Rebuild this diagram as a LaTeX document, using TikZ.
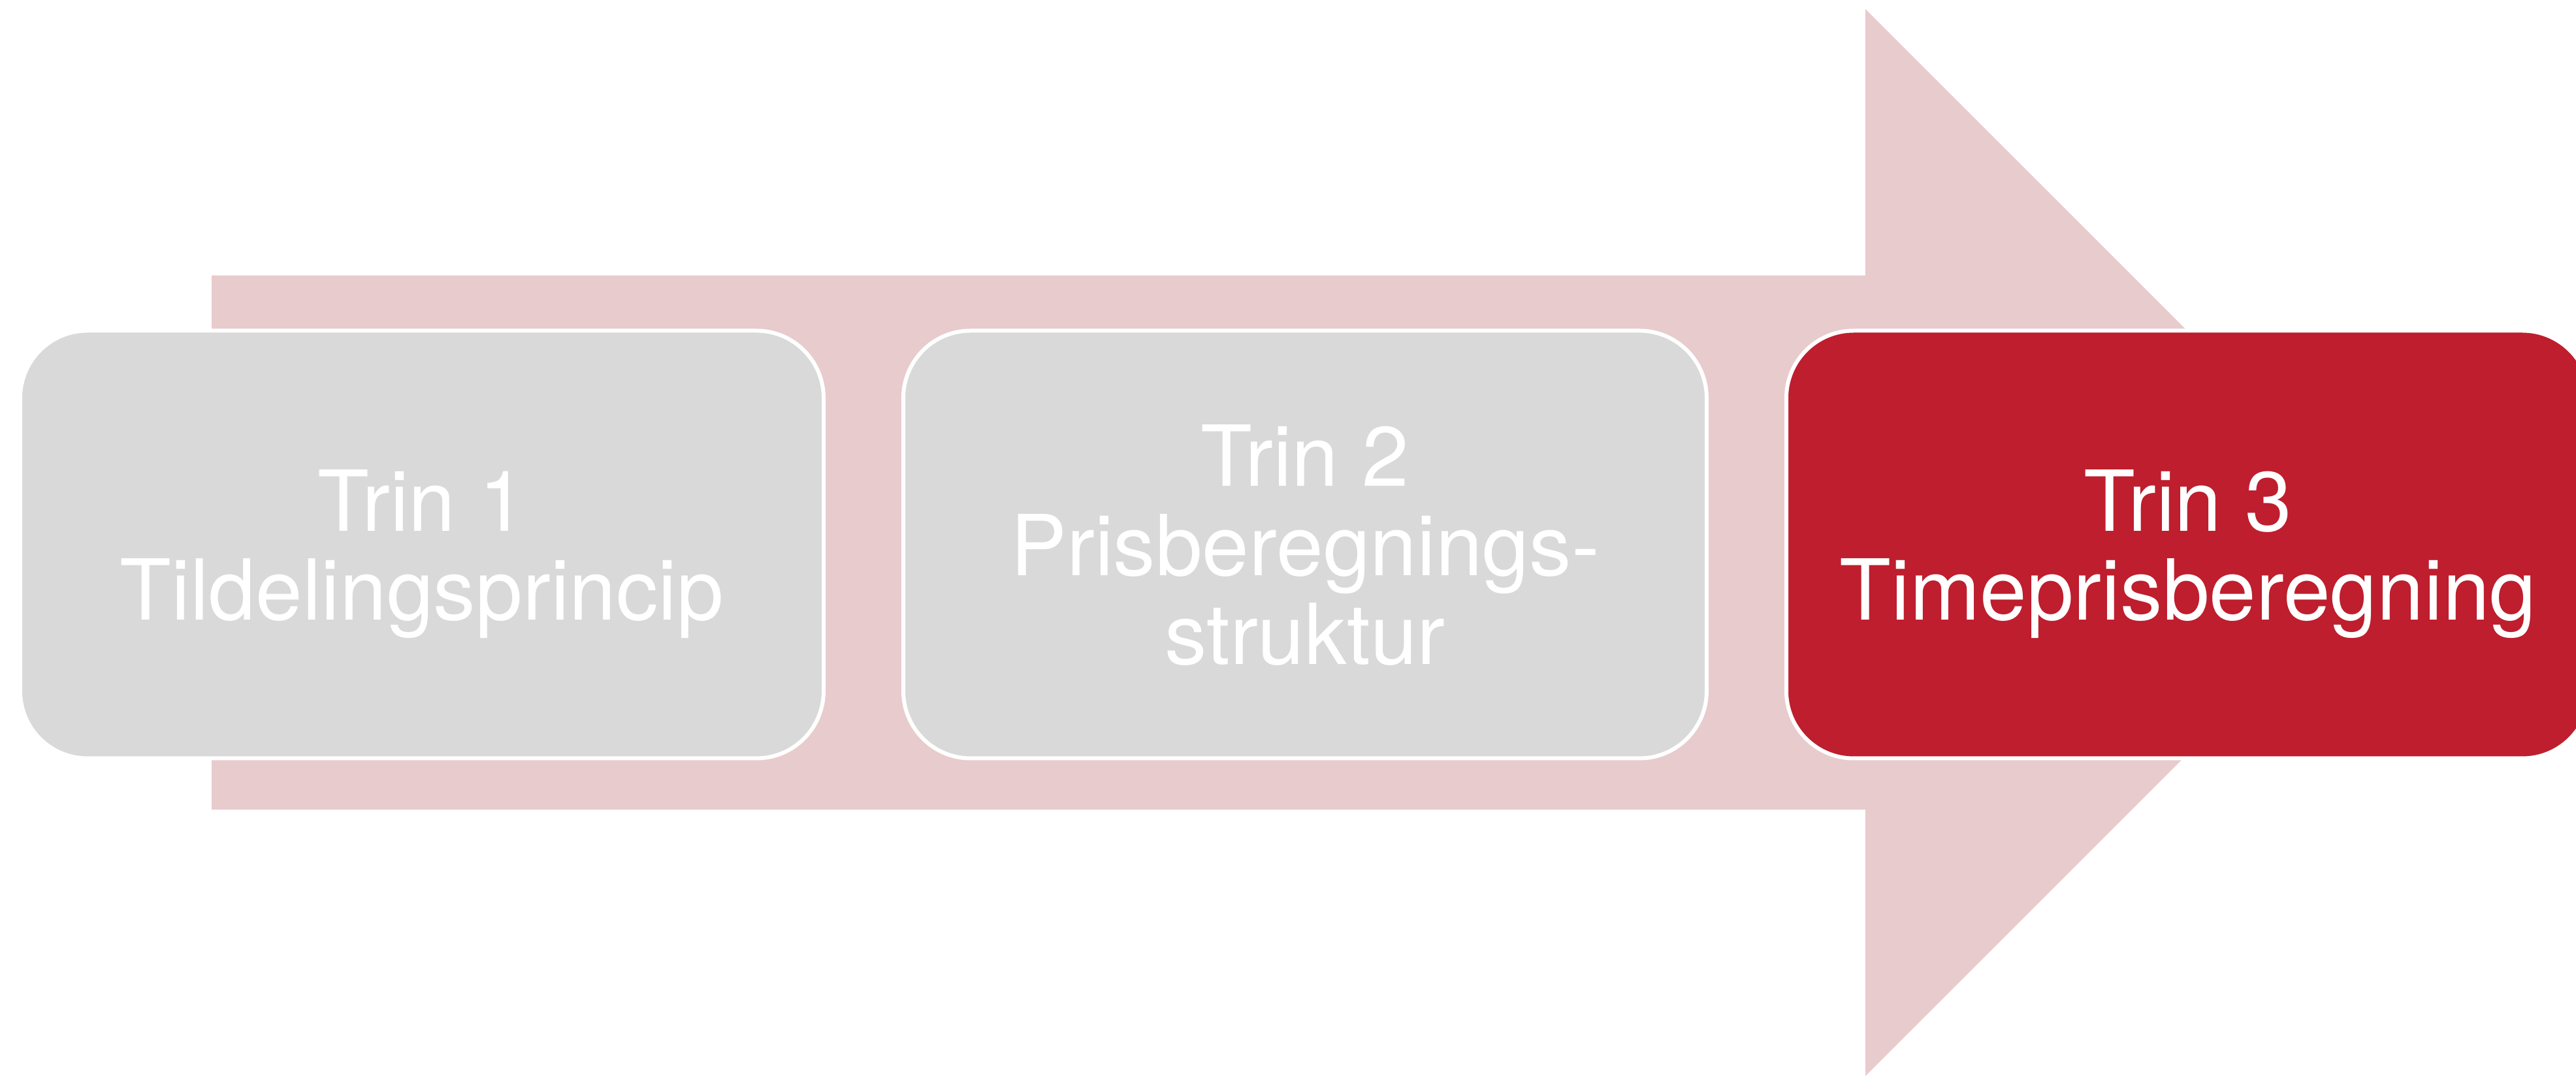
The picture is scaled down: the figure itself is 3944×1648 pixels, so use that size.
\documentclass[tikz,border=0pt]{standalone}
\usepackage{fontspec}
\setmainfont{TeX Gyre Heros}
\usepackage{tikz}
\tikzset{
	node distance=135.2mm, % Afstand mellem trinenes centre
	trin/.style={rectangle, rounded corners=10.3mm, draw=white, line width=0.6mm,
		minimum width=123mm, minimum height=65.5mm, text depth=0pt}, % Boksene for hvert trin
	every node/.style={text=white, align=center,
		font=\fontsize{36.7pt}{38.7pt}\selectfont} % Hvid tekst, centreret
}
\definecolor{pil}{HTML}{E8CBCD}
\definecolor{graa}{HTML}{D9D9D9}
\definecolor{roed}{HTML}{BE1E2D}

\begin{document}
\begin{tikzpicture}[x=0.1mm, y=-0.1mm]
				\useasboundingbox (0,0) rectangle (3944,1648);
				\clip (0,0) rectangle (3944,1648);
				\fill[pil] (324,422) -- (2856,422) -- (2856,14) -- (3673,831)
						-- (2856,1648) -- (2856,1240) -- (324,1240) -- cycle;
				\node[trin, fill=graa] (t1) at (646,834) {Trin 1\\Tildelingsprincip};
				\node[trin, fill=graa, right of=t1] (t2) {Trin 2\\Prisberegnings-\\struktur};
				\node[trin, fill=roed, right of=t2] (t3) {Trin 3\\Timeprisberegning};
			\end{tikzpicture}
\end{document}
